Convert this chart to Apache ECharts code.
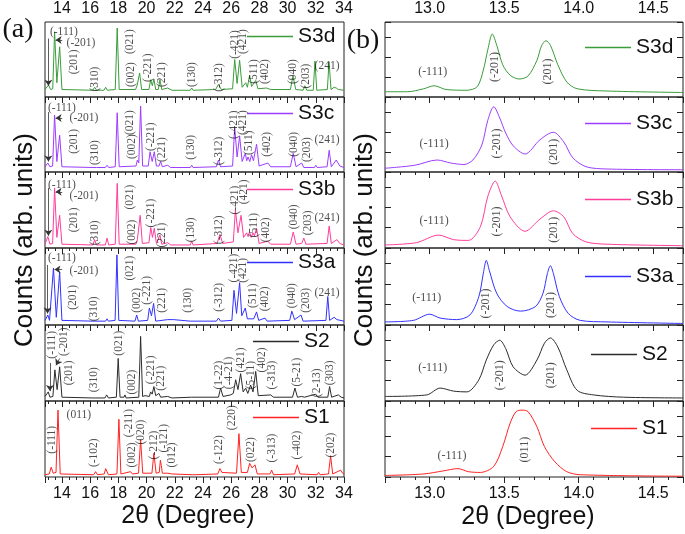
<!DOCTYPE html>
<html><head><meta charset="utf-8">
<script src="https://cdn.jsdelivr.net/npm/echarts@6/dist/echarts.min.js"></script>
<style>html,body{margin:0;padding:0;background:#fff}#c{width:685px;height:534px}</style>
</head><body><div id="c"></div>
<script>
// ---------- DATA ----------
const samples = ['S3d','S3c','S3b','S3a','S2','S1'];
const ticksA = [14,16,18,20,22,24,26,28,30,32,34];
const ticksB = [13.0,13.5,14.0,14.5];

// Panel (a): XRD patterns, [2theta, intensity (arb.)]
const xrdA_S3d = [[12.8,10],[12.92,10],[13.05,16],[13.2,10],[13.35,11],[13.48,87],[13.64,19],[13.84,67],[14.0,10],[16.18,9],[16.32,13],[16.46,9],[16.98,9],[17.1,13],[17.22,9],[17.78,10],[17.92,92],[18.06,10],[19.22,10],[19.34,16],[19.42,14],[19.51,32],[19.65,10],[20.17,10],[20.29,23],[20.41,15],[20.52,24],[20.65,10],[20.83,10],[20.95,23],[21.08,10],[21.5,12],[21.8,9],[23.1,9],[23.2,12],[23.3,9],[24.9,10],[25.1,17],[25.3,10],[26.1,11],[26.25,50],[26.42,18],[26.6,49],[26.78,13],[27.03,19],[27.15,13],[27.31,29],[27.45,14],[27.74,22],[27.9,11],[28.5,12],[28.8,10],[30.2,10],[30.38,28],[30.58,10],[31.1,9],[31.23,15],[31.36,9],[31.82,9],[31.94,48],[32.07,9],[32.82,10],[32.94,47],[33.08,10],[33.3,13],[33.45,12],[33.6,10],[34,9]];
const xrdA_S3c = [[12.8,7],[12.9,7],[13.0,12],[13.15,7],[13.34,8],[13.48,76],[13.64,14],[13.84,49],[14.0,7],[16.2,6],[16.32,8],[16.45,6],[17.08,6],[17.2,9],[17.32,6],[17.78,7],[17.92,79],[18.06,7],[19.25,8],[19.35,16],[19.45,12],[19.58,88],[19.72,8],[20.12,8],[20.25,27],[20.4,14],[20.55,27],[20.7,8],[20.88,8],[21.0,14],[21.12,7],[21.5,9],[21.7,6],[23.1,6],[23.2,9],[23.3,6],[24.95,7],[25.1,16],[25.25,7],[26.1,8],[26.25,60],[26.42,20],[26.6,48],[26.78,14],[27.0,25],[27.1,15],[27.2,20],[27.32,14],[27.45,23],[27.58,15],[27.8,37],[27.98,8],[28.6,12],[28.8,7],[30.2,7],[30.4,25],[30.6,7],[31.0,12],[31.15,6],[31.9,6],[32.0,9],[32.1,6],[32.8,7],[32.95,29],[33.1,7],[33.45,16],[33.7,8],[34,6]];
const xrdA_S3b = [[12.8,5],[12.9,5],[13.0,15],[13.15,5],[13.34,6],[13.48,79],[13.64,14],[13.84,43],[14.0,5],[16.2,4],[16.32,11],[16.45,4],[17.08,4],[17.2,13],[17.32,4],[17.78,5],[17.92,85],[18.06,5],[19.25,5],[19.35,11],[19.42,9],[19.55,43],[19.7,6],[20.17,7],[20.3,27],[20.42,14],[20.55,26],[20.7,6],[20.83,6],[20.95,17],[21.08,5],[21.5,7],[21.7,4],[23.1,4],[23.2,9],[23.3,4],[25.0,6],[25.2,18],[25.4,6],[26.15,8],[26.3,50],[26.48,20],[26.7,43],[26.88,14],[27.1,20],[27.2,15],[27.3,21],[27.42,14],[27.55,20],[27.65,16],[27.8,26],[27.98,6],[28.6,9],[28.8,5],[30.2,5],[30.4,21],[30.6,5],[31.0,6],[31.15,13],[31.3,5],[32.8,6],[32.95,29],[33.1,6],[33.5,11],[33.7,6],[34,4]];
const xrdA_S3a = [[12.8,6],[12.9,6],[13.0,13],[13.12,6],[13.26,8],[13.4,74],[13.6,10],[13.84,69],[14.0,6],[16.2,5],[16.3,7],[16.4,5],[17.1,5],[17.2,8],[17.3,5],[17.77,6],[17.9,91],[18.03,6],[19.18,5],[19.3,13],[19.42,5],[20.08,6],[20.2,22],[20.35,12],[20.5,28],[20.65,5],[21.5,7],[21.6,5],[21.9,7],[22.0,5],[23.1,5],[23.2,7],[23.3,5],[24.95,5],[25.1,9],[25.25,5],[26.05,6],[26.2,45],[26.38,15],[26.6,55],[26.75,12],[27.0,22],[27.15,8],[27.6,8],[27.8,17],[27.95,6],[28.4,9],[28.55,5],[30.15,6],[30.3,18],[30.5,7],[30.95,13],[31.1,5],[32.72,6],[32.85,37],[32.98,6],[33.3,10],[33.5,7],[34,5]];
const xrdA_S2 = [[12.8,6],[12.9,5],[13.03,12],[13.15,5],[13.36,6],[13.5,41],[13.66,15],[13.84,45],[14.0,5],[16.15,4],[16.27,6],[16.4,4],[17.05,4],[17.17,8],[17.3,4],[17.86,5],[17.99,56],[18.12,5],[18.4,5],[18.47,8],[18.55,4],[19.45,5],[19.58,85],[19.72,6],[19.89,7],[20.0,5],[20.2,6],[20.29,12],[20.4,9],[20.52,19],[20.65,7],[20.88,10],[21.0,5],[21.5,6],[21.8,4],[23.2,5],[23.3,4],[25.1,5],[25.25,17],[25.42,6],[25.96,8],[26.15,10],[26.32,28],[26.48,15],[26.67,36],[26.85,12],[27.03,17],[27.18,10],[27.38,21],[27.55,12],[27.74,39],[27.92,7],[28.8,8],[29.0,5],[30.35,5],[30.52,17],[30.7,5],[31.0,6],[31.2,5],[31.99,9],[32.15,5],[32.85,5],[32.98,19],[33.12,5],[33.6,8],[33.8,5],[34,4]];
const xrdA_S1 = [[12.8,3],[13.1,4],[13.24,13],[13.38,5],[13.58,6],[13.72,88],[13.88,4],[16.25,3],[16.39,7],[16.52,3],[17.0,4],[17.1,11],[17.2,9],[17.3,3],[17.9,4],[18.04,76],[18.18,4],[18.87,7],[19.0,4],[19.43,5],[19.58,49],[19.73,5],[20.38,5],[20.52,31],[20.68,5],[20.9,6],[20.98,22],[21.05,15],[21.12,5],[21.5,5],[21.64,7],[21.8,4],[23.25,3],[23.36,5],[23.5,3],[25.05,4],[25.2,11],[25.35,6],[26.38,5],[26.55,57],[26.72,6],[27.15,6],[27.31,18],[27.48,12],[27.69,16],[27.85,4],[28.75,4],[28.87,9],[29.0,3],[30.5,4],[30.69,16],[30.88,4],[32.1,3],[32.2,6],[32.3,3],[32.9,4],[33.05,28],[33.2,4],[33.76,9],[33.9,5],[34,4]];

// Panel (b): zoom 12.7-14.7 deg
const xrdB_S3d = [[12.7,7],[12.85,7],[12.96,11],[13.03,15],[13.11,10],[13.25,9],[13.32,14],[13.36,36],[13.39,63],[13.42,84],[13.45,69],[13.49,43],[13.54,29],[13.6,24],[13.66,28],[13.72,49],[13.75,68],[13.78,75],[13.81,69],[13.86,43],[13.92,20],[13.99,11],[14.19,8],[14.7,6]];
const xrdB_S3c = [[12.7,5],[12.9,9],[13.05,16],[13.14,12],[13.23,10],[13.29,16],[13.35,36],[13.39,69],[13.43,87],[13.47,72],[13.51,52],[13.56,35],[13.64,24],[13.74,43],[13.83,53],[13.9,40],[13.96,19],[14.05,7],[14.19,4],[14.7,3]];
const xrdB_S3b = [[12.7,4],[12.91,7],[13.06,17],[13.16,11],[13.26,10],[13.34,28],[13.39,68],[13.44,88],[13.48,70],[13.54,41],[13.64,22],[13.74,38],[13.83,49],[13.9,41],[13.96,19],[14.05,8],[14.19,5],[14.7,3]];
const xrdB_S3a = [[12.7,4],[12.89,6],[13.0,14],[13.07,9],[13.18,7],[13.27,13],[13.33,37],[13.36,67],[13.38,84],[13.4,71],[13.45,41],[13.52,24],[13.61,18],[13.71,24],[13.76,41],[13.79,67],[13.81,77],[13.83,67],[13.87,37],[13.93,15],[14.01,6],[14.19,4],[14.7,2]];
const xrdB_S2 = [[12.7,6],[12.98,8],[13.07,17],[13.16,13],[13.25,12],[13.33,28],[13.38,54],[13.43,74],[13.47,80],[13.51,69],[13.56,45],[13.64,34],[13.72,54],[13.77,76],[13.81,83],[13.86,71],[13.92,41],[13.99,14],[14.1,8],[14.3,5],[14.7,4]];
const xrdB_S1 = [[12.7,2],[12.96,4],[13.09,8],[13.19,11],[13.26,7],[13.34,6],[13.43,14],[13.49,40],[13.54,71],[13.58,86],[13.62,88],[13.66,86],[13.72,66],[13.77,40],[13.84,20],[13.92,7],[14.01,3],[14.7,1]];

// hkl annotations: [2theta, intensity, text, rotated]
const hklA_S3d = [[14.14,87,'(-111)',0],[15.35,72,'(-201)',0],[14.85,47,'(201)',1],[16.34,24,'(310)',1],[18.82,74,'(021)',1],[18.9,30,'(002)',1],[20.1,39,'(-221)',1],[21.1,30,'(221)',1],[23.22,30,'(130)',1],[25.13,26,'(-312)',1],[26.27,70,'(-421)',1],[26.84,74,'(421)',1],[27.62,34,'(511)',1],[28.4,34,'(402)',1],[30.38,34,'(040)',1],[31.3,28,'(203)',1],[32.8,42,'(241)',0]];
const hklA_S3c = [[14.0,86,'(-111)',0],[15.56,72,'(-201)',0],[14.85,41,'(201)',1],[16.34,26,'(310)',1],[18.82,66,'(021)',1],[18.96,34,'(002)',1],[20.3,47,'(-221)',1],[21.1,30,'(221)',1],[23.15,33,'(130)',1],[25.13,28,'(-312)',1],[26.2,63,'(-421)',1],[26.84,66,'(421)',1],[27.26,39,'(511)',1],[28.54,37,'(402)',1],[30.45,37,'(040)',1],[31.38,30,'(203)',1],[32.8,43,'(241)',0]];
const hklA_S3b = [[14.0,83,'(-111)',0],[15.56,68,'(-201)',0],[14.85,37,'(201)',1],[16.34,20,'(310)',1],[18.82,67,'(021)',1],[18.96,21,'(002)',1],[20.3,46,'(-221)',1],[21.1,17,'(221)',1],[23.15,24,'(130)',1],[25.13,24,'(-312)',1],[26.27,63,'(-421)',1],[26.9,74,'(421)',1],[27.62,30,'(511)',1],[28.47,24,'(402)',1],[30.45,41,'(040)',1],[31.45,33,'(203)',1],[32.8,39,'(241)',0]];
const hklA_S3a = [[14.0,87,'(-111)',0],[15.56,70,'(-201)',0],[14.78,36,'(201)',1],[16.27,21,'(310)',1],[18.82,74,'(021)',1],[19.32,32,'(002)',1],[20.03,45,'(-221)',1],[21.1,32,'(221)',1],[22.94,32,'(130)',1],[25.13,36,'(-312)',1],[26.2,74,'(-421)',1],[26.84,71,'(421)',1],[27.55,38,'(511)',1],[28.4,34,'(402)',1],[30.31,38,'(040)',1],[31.3,32,'(203)',1],[32.8,41,'(241)',0]];
const hklA_S2 = [[13.27,74,'(-111)',1],[14.14,78,'(-201)',1],[14.5,37,'(201)',1],[16.27,28,'(310)',1],[18.04,76,'(021)',1],[18.94,25,'(002)',1],[20.29,41,'(-221)',1],[21.0,30,'(221)',1],[25.13,34,'(1-22)',1],[25.84,37,'(-4-21)',1],[26.72,54,'(421)',1],[27.38,34,'(5-11)',1],[28.16,54,'(402)',1],[28.91,34,'(-313)',1],[30.69,38,'(5-21)',1],[32.06,24,'(2-13)',1],[33.0,37,'(303)',1]];
const hklA_S1 = [[13.31,49,'(-111)',1],[15.2,82,'(011)',0],[16.27,32,'(-102)',1],[18.75,71,'(-211)',1],[18.99,29,'(002)',1],[19.58,59,'(020)',1],[20.52,42,'(-212)',1],[21.23,51,'(-121)',1],[21.82,29,'(012)',1],[25.13,36,'(-122)',1],[26.08,78,'(220)',1],[27.38,36,'(022)',1],[28.91,38,'(-313)',1],[30.69,42,'(-402)',1],[33.06,42,'(202)',1]];
const hklB_S3d = [[13.02,34,'(-111)',0],[13.44,40,'(-201)',1],[13.79,34,'(201)',1]];
const hklB_S3c = [[13.03,37,'(-111)',0],[13.45,38,'(-201)',1],[13.83,27,'(201)',1]];
const hklB_S3b = [[13.03,36,'(-111)',0],[13.45,35,'(-201)',1],[13.83,24,'(201)',1]];
const hklB_S3a = [[12.98,35,'(-111)',0],[13.38,28,'(-201)',1],[13.81,26,'(201)',1]];
const hklB_S2 = [[13.02,44,'(-111)',0],[13.47,34,'(-201)',1],[13.81,34,'(201)',1]];
const hklB_S1 = [[13.15,28,'(-111)',0],[13.64,36,'(011)',1]];

// pointer arrows in panel (a): [x1,y1,x2,y2]
const arrowsA_S3d = [[13.04,78,13.04,15],[14.02,76,13.55,76]];
const arrowsA_S3c = [[13.04,80,13.04,14],[14.02,72,13.55,72]];
const arrowsA_S3b = [[13.04,79,13.04,16],[14.02,74,13.55,74]];
const arrowsA_S3a = [[12.98,78,12.98,15],[14.02,72,13.47,72]];
const arrowsA_S2 = [[13.15,50,13.15,13],[13.84,56,13.58,47]];
const arrowsA_S1 = [];

// ---------- STYLE / LAYOUT ----------
const colors = ['#3a9d3a','#9d3dff','#ff3d9c','#3232ff','#2b2b2b','#ff2222'];
const tops = [22,97,172,248,325,401], hts = [75,75,76,77,76,76];
const dataA = [xrdA_S3d,xrdA_S3c,xrdA_S3b,xrdA_S3a,xrdA_S2,xrdA_S1];
const dataB = [xrdB_S3d,xrdB_S3c,xrdB_S3b,xrdB_S3a,xrdB_S2,xrdB_S1];
const hklA = [hklA_S3d,hklA_S3c,hklA_S3b,hklA_S3a,hklA_S2,hklA_S1];
const hklB = [hklB_S3d,hklB_S3c,hklB_S3b,hklB_S3a,hklB_S2,hklB_S1];
const arrowsA = [arrowsA_S3d,arrowsA_S3c,arrowsA_S3b,arrowsA_S3a,arrowsA_S2,arrowsA_S1];
const legA = {top:[26,103,179,252,331,407], left:[247,247,247,247,253,253]};
const legB = {top:[37,113,189,266,344,418], left:[585,585,585,585,591,591]};

const grids=[], xAxes=[], yAxes=[], series=[], legends=[];
const SANS = 'Liberation Sans', SERIF = 'Liberation Serif';

function tickAxis(gi, pos, cfg, showLabels, inside){
  return {gridIndex:gi, type:'value', position:pos, min:cfg.min, max:cfg.max, splitNumber:cfg.split,
    axisLine:{show:false}, splitLine:{show:false}, minorSplitLine:{show:false},
    axisTick:{show:true, inside:inside, length:6, lineStyle:{color:'#222', width:1}},
    minorTick:{show:true, splitNumber:cfg.minor, length:3, lineStyle:{color:'#222', width:1}},
    axisLabel:{show:showLabels, margin:pos==='top'?5:9, fontSize:16, color:'#111', fontFamily:SANS,
      showMinLabel:false, showMaxLabel:cfg.showMax, formatter:cfg.fmt}};
}

function panel(cfg){
  for(let i=0;i<6;i++){
    const gi = grids.length;
    grids.push({left:cfg.left, top:tops[i], width:cfg.width, height:hts[i], show:true, borderColor:'#222', borderWidth:1});
    const xi = xAxes.length;
    xAxes.push(tickAxis(gi,'top',cfg,i===0,true));
    if(i===5) xAxes.push(tickAxis(gi,'bottom',cfg,true,false));
    const yi = yAxes.length;
    if(cfg.yTicks){
      const yt = {gridIndex:gi, type:'value', min:0, max:100, interval:80/3, axisLine:{show:false}, splitLine:{show:false},
        axisLabel:{show:false}, axisTick:{show:true, inside:true, length:6, lineStyle:{color:'#222'}}};
      yAxes.push(Object.assign({position:'left'}, yt));
      yAxes.push(Object.assign({position:'right'}, yt));
    } else {
      yAxes.push({gridIndex:gi, type:'value', min:0, max:100, show:false});
    }
    series.push({name:samples[i], type:'line', xAxisIndex:xi, yAxisIndex:yi, data:cfg.data[i],
      showSymbol:false, symbol:'none', smooth:cfg.smooth, color:colors[i],
      lineStyle:{color:colors[i], width:1}, itemStyle:{color:colors[i]}, z:3});
    const lab = {type:'scatter', xAxisIndex:xi, yAxisIndex:yi, symbolSize:1, silent:true, z:5,
      itemStyle:{color:'rgba(0,0,0,0)'},
      data: cfg.hkl[i].map(h => ({value:[h[0],h[1]], label:{show:true, position:'inside', rotate:h[3]?90:0,
        formatter:h[2], fontFamily:SERIF, fontSize:cfg.fs, color:'#222'}}))};
    if(cfg.arrows && cfg.arrows[i].length){
      lab.markLine = {silent:true, symbol:['none','arrow'], symbolSize:6, animation:false,
        label:{show:false}, lineStyle:{color:'#333', width:0.8, type:'solid'},
        data: cfg.arrows[i].map(a => [{coord:[a[0],a[1]]},{coord:[a[2],a[3]]}])};
    }
    series.push(lab);
    legends.push({data:[samples[i]], left:cfg.leg.left[i], top:cfg.leg.top[i], padding:0, icon:'rect',
      itemWidth:46, itemHeight:1.3, selectedMode:false,
      textStyle:{fontSize:21, fontFamily:SANS, color:'#111'}});
  }
}

panel({left:45, width:299, min:12.8, max:34, split:10, minor:4, showMax:true, fmt:v=>String(v),
  data:dataA, hkl:hklA, arrows:arrowsA, smooth:false, yTicks:false, fs:11.5, leg:legA});
panel({left:385, width:298, min:12.7, max:14.7, split:4, minor:5, showMax:false, fmt:v=>v.toFixed(1),
  data:dataB, hkl:hklB, arrows:null, smooth:0.3, yTicks:true, fs:12, leg:legB});

const T = (t,x,y,fs,fam,rot) => ({type:'text', x:x, y:y, rotation:rot||0, silent:true,
  style:{text:t, fontSize:fs, fontFamily:fam, fill:'#111', align:'center', verticalAlign:'middle'}});

const option = {
  animation:false, backgroundColor:'#fff',
  grid:grids, xAxis:xAxes, yAxis:yAxes, series:series, legend:legends,
  graphic:[
    T('(a)',18,30,28,SERIF), T('(b)',363,41,28,SERIF),
    T('Counts (arb. units)',25,240,26,SANS,Math.PI/2),
    T('Counts (arb. units)',365,240,26,SANS,Math.PI/2),
    T('2θ (Degree)',188,516,25,SANS), T('2θ (Degree)',528,517,25,SANS)
  ]
};
const chart = echarts.init(document.getElementById('c'), null, {renderer:'canvas'});
chart.setOption(option);
</script></body></html>
